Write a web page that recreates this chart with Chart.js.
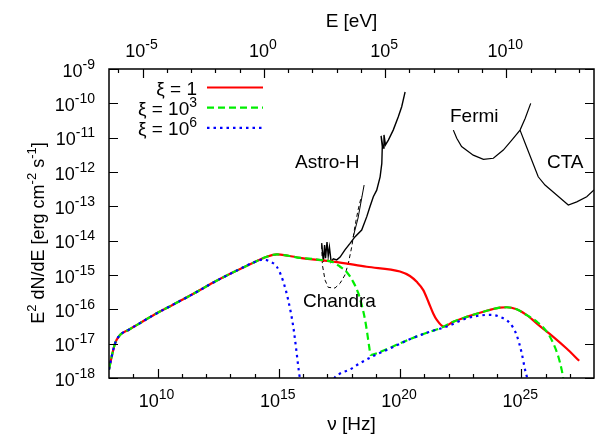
<!DOCTYPE html>
<html><head><meta charset="utf-8">
<script src="https://cdn.jsdelivr.net/npm/chart.js@4/dist/chart.umd.min.js"></script>
<style>html,body{margin:0;padding:0;background:#fff}#wrap{width:600px;height:441px}</style>
</head><body><div id="wrap"><canvas id="c" width="600" height="441"></canvas></div>
<script>
// ---- constants / tick labels ----
const H_EV = 4.135667e-15;               // E[eV] = h * nu
const nuTickExps   = [9,10,11,12,13,14,15,16,17,18,19,20,21,22,23,24,25,26,27];
const nuLabelExps  = [10,15,20,25];
const eTickExps    = [-6,-5,-4,-3,-2,-1,0,1,2,3,4,5,6,7,8,9,10,11,12,13];
const eLabelExps   = [-5,0,5,10];
const fluxTickExps = [-18,-17,-16,-15,-14,-13,-12,-11,-10,-9];

// ---- series (log10 nu [Hz], log10 E^2 dN/dE) ----
const nuRed = [8.0,8.11,8.25,8.45,8.80,9.21,9.83,10.6,11.5,12.3,13.1,13.95,14.5,14.92,15.4,15.88,17.25,18.63,20.0,20.41,20.69,20.96,21.17,21.37,21.51,21.80,22.20,22.75,23.44,24.12,24.40,24.81,25.23,25.77,26.32,26.87,27.39];
const fRed  = [-17.75,-17.38,-16.99,-16.75,-16.60,-16.43,-16.17,-15.88,-15.54,-15.22,-14.93,-14.64,-14.47,-14.40,-14.44,-14.50,-14.61,-14.76,-14.90,-15.03,-15.20,-15.44,-15.78,-16.12,-16.30,-16.50,-16.36,-16.22,-16.07,-15.95,-15.94,-16.00,-16.17,-16.49,-16.80,-17.14,-17.50];

const nuGreen = [8.0,8.11,8.25,8.45,8.80,9.21,9.83,10.6,11.5,12.3,13.1,13.95,14.5,14.92,15.4,15.88,16.6,17.25,17.53,17.80,18.07,18.28,18.42,18.56,18.65,18.73,18.79,19.04,20.0,20.83,21.65,22.20,22.75,23.44,24.12,24.40,24.81,25.23,25.64,26.05,26.32,26.53,26.67,26.73,26.80];
const fGreen  = [-17.75,-17.38,-16.99,-16.75,-16.60,-16.43,-16.17,-15.88,-15.54,-15.22,-14.93,-14.64,-14.47,-14.40,-14.44,-14.50,-14.55,-14.63,-14.76,-14.91,-15.20,-15.53,-15.87,-16.31,-16.70,-17.09,-17.33,-17.28,-16.99,-16.75,-16.55,-16.36,-16.22,-16.07,-15.95,-15.94,-16.00,-16.17,-16.36,-16.65,-16.99,-17.38,-17.77,-18.01,-18.30];

const nuBlue = [8.0,8.11,8.25,8.45,8.80,9.21,9.83,10.6,11.5,12.3,13.1,13.95,14.36,14.64,14.92,15.19,15.39,15.60,15.74,15.84,15.92,16.5,17.20,17.32,17.53,17.94,18.35,18.90,19.59,20.34,21.20,21.93,22.75,23.30,23.71,24.12,24.54,24.81,25.02,25.16,25.23,25.28];
const fBlue  = [-17.75,-17.38,-16.99,-16.75,-16.60,-16.43,-16.17,-15.88,-15.54,-15.22,-14.93,-14.64,-14.55,-14.61,-14.76,-15.20,-15.73,-16.51,-17.28,-17.86,-18.20,null,-18.20,-17.98,-17.87,-17.75,-17.57,-17.36,-17.14,-16.89,-16.66,-16.50,-16.26,-16.18,-16.16,-16.22,-16.41,-16.75,-17.28,-17.77,-17.96,-18.20];

// instrument sensitivities
const astroNu = [16.77,16.84,16.89,16.93,16.99,17.04,17.09,17.16,17.25,17.39,17.53,17.73,17.94,18.14,18.42,18.63,18.76,18.90,19.04,19.18,19.25,19.27,19.22,19.30,19.34,19.40,19.52,19.72,19.93,20.07,20.18,20.21];
const astroF  = [-14.07,-14.62,-14.13,-14.51,-14.04,-14.45,-14.19,-14.62,-14.53,-14.56,-14.48,-14.27,-14.08,-13.89,-13.69,-13.30,-13.01,-12.72,-12.53,-12.14,-11.75,-11.26,-10.95,-11.30,-10.92,-11.21,-11.07,-10.78,-10.39,-10.10,-9.76,-9.67];
const astroThinNu = [18.07,18.27,18.52];
const astroThinF  = [-13.89,-13.34,-12.38];
const chandraNu = [16.77,16.80,16.91,17.04,17.32,17.53,17.73,17.87,18.01,18.14,18.27,18.41];
const chandraF  = [-14.13,-14.71,-15.15,-15.36,-15.38,-15.24,-15.00,-14.66,-14.18,-13.59,-13.11,-12.70];
const fermiNu = [22.20,22.34,22.54,23.02,23.44,23.85,24.26,24.61,24.95,25.16,25.39];
const fermiF  = [-10.78,-11.02,-11.26,-11.51,-11.63,-11.60,-11.36,-11.07,-10.78,-10.44,-10.00];
const ctaNu = [24.95,25.16,25.43,25.70,25.98,26.46,26.94,27.29,27.70,28.0];
const ctaF  = [-10.78,-11.16,-11.65,-12.14,-12.38,-12.67,-12.96,-12.87,-12.72,-12.52];

// annotation labels [text, log nu, log flux]
const annotations = [["Astro-H",15.67,-11.88],["Chandra",16.0,-15.93],["Fermi",22.06,-10.54],["CTA",26.06,-11.88]];
const legendLabels = [["ξ = 1",""],["ξ = 10","3"],["ξ = 10","6"]];
const legendColors = ["#ff0000","#00ee00","#0000ff"];
const legendDash = [[],[7,4],[2.5,4]];

const FONT = '"Liberation Sans", Arial, Helvetica, sans-serif';
const toPts = (nu, f) => nu.map((v,i) => ({x: Math.pow(10,v), y: f[i]===null ? null : Math.pow(10,f[i])}));

function drawRich(ctx, segs, x, y, align, size, supSize, raise){
  let tot = 0; const ws = [];
  segs.forEach(([t,s]) => { ctx.font = (s?supSize:size)+'px '+FONT; const w = ctx.measureText(t).width; ws.push(w); tot += w; });
  let x0 = align==='center' ? x - tot/2 : align==='right' ? x - tot : x;
  ctx.textAlign = 'left'; ctx.textBaseline = 'alphabetic';
  segs.forEach(([t,s],i) => { ctx.font = (s?supSize:size)+'px '+FONT; ctx.fillText(t, x0, s ? y-raise : y); x0 += ws[i]; });
}

const gnuAxes = {
  id: 'gnuAxes',
  afterDraw(chart){
    const {ctx, chartArea:a, scales} = chart;
    const xs = scales.x, xt = scales.xTop, ys = scales.y;
    ctx.save();
    ctx.fillStyle = '#000'; ctx.strokeStyle = '#000';
    ctx.lineWidth = 1.5;
    ctx.strokeRect(a.left, a.top, a.right-a.left, a.bottom-a.top);
    ctx.lineWidth = 1.2;
    ctx.beginPath();
    nuTickExps.forEach(e => { const x = Math.round(xs.getPixelForValue(Math.pow(10,e)))+0.5; const L = nuLabelExps.includes(e)?9:4; ctx.moveTo(x,a.bottom); ctx.lineTo(x,a.bottom-L); });
    eTickExps.forEach(e => { const x = Math.round(xt.getPixelForValue(Math.pow(10,e)))+0.5; const L = eLabelExps.includes(e)?9:4; ctx.moveTo(x,a.top); ctx.lineTo(x,a.top+L); });
    fluxTickExps.forEach(e => { const y = Math.round(ys.getPixelForValue(Math.pow(10,e)))+0.5; ctx.moveTo(a.left,y); ctx.lineTo(a.left+9,y); ctx.moveTo(a.right,y); ctx.lineTo(a.right-9,y); });
    ctx.stroke();
    // tick labels
    nuLabelExps.forEach(e => drawRich(ctx, [["10",0],[String(e),1]], xs.getPixelForValue(Math.pow(10,e))-1, a.bottom+29, 'center', 18, 14, 8));
    eLabelExps.forEach(e => drawRich(ctx, [["10",0],[String(e),1]], xt.getPixelForValue(Math.pow(10,e))-1, a.top-12, 'center', 18, 14, 8));
    fluxTickExps.forEach(e => drawRich(ctx, [["10",0],[String(e),1]], 95, ys.getPixelForValue(Math.pow(10,e))+7.5, 'right', 18, 14, 8));
    // axis titles
    drawRich(ctx, [["E [eV]",0]], (a.left+a.right)/2, 27, 'center', 19, 14, 8);
    drawRich(ctx, [["ν [Hz]",0]], (a.left+a.right)/2, 430, 'center', 19, 14, 8);
    ctx.save();
    ctx.translate(44, 233); ctx.rotate(-Math.PI/2);
    drawRich(ctx, [["E",0],["2",1],[" dN/dE [erg cm",0],["-2",1],[" s",0],["-1",1],["]",0]], 0, 0, 'center', 18, 13, 8);
    ctx.restore();
    // annotations
    annotations.forEach(([t,lx,ly]) => drawRich(ctx, [[t,0]], xs.getPixelForValue(Math.pow(10,lx)), ys.getPixelForValue(Math.pow(10,ly)), 'left', 19, 14, 8));
    // legend
    legendLabels.forEach(([t,s],i) => {
      const y = 87.5 + i*20.2;
      const segs = s ? [[t,0],[s,1]] : [[t,0]];
      ctx.fillStyle = '#000';
      drawRich(ctx, segs, 197, y+7, 'right', 19, 14, 8);
      ctx.beginPath(); ctx.strokeStyle = legendColors[i]; ctx.lineWidth = 2.2; ctx.setLineDash(legendDash[i]);
      ctx.moveTo(207, y); ctx.lineTo(263, y); ctx.stroke(); ctx.setLineDash([]);
    });
    ctx.restore();
  }
};

const model = (label, nu, f, color, dash, order) => ({
  label, data: toPts(nu,f), borderColor: color, borderWidth: 2.2, borderDash: dash,
  showLine: true, pointRadius: 0, fill: false, cubicInterpolationMode: 'monotone', spanGaps: false, order
});
const instr = (label, nu, f, width, dash, order) => ({
  label, data: toPts(nu,f), borderColor: '#000', borderWidth: width, borderDash: dash,
  showLine: true, pointRadius: 0, fill: false, tension: 0, order
});

new Chart(document.getElementById('c'), {
  type: 'scatter',
  data: { datasets: [
    model('ξ = 10^6', nuBlue, fBlue, '#0000ff', [2.5,4], 0),
    model('ξ = 10^3', nuGreen, fGreen, '#00ee00', [7,4], 1),
    model('ξ = 1', nuRed, fRed, '#ff0000', [], 2),
    instr('Astro-H', astroNu, astroF, 1.4, [], 3),
    instr('Astro-H (2)', astroThinNu, astroThinF, 1, [], 3),
    instr('Chandra', chandraNu, chandraF, 1, [4,3], 3),
    instr('Fermi', fermiNu, fermiF, 1.2, [], 3),
    instr('CTA', ctaNu, ctaF, 1.2, [], 3)
  ]},
  options: {
    responsive: false, animation: false, devicePixelRatio: 1,
    layout: { padding: { left: 109, right: 6, top: 69, bottom: 63 } },
    plugins: { legend: { display: false }, tooltip: { enabled: false } },
    scales: {
      x: { type: 'logarithmic', min: 1e8, max: 1e28, display: false },
      xTop: { type: 'logarithmic', position: 'top', min: 1e8*H_EV, max: 1e28*H_EV, display: false },
      y: { type: 'logarithmic', min: 1e-18, max: 1e-9, display: false }
    }
  },
  plugins: [gnuAxes]
});
</script>
</body></html>
